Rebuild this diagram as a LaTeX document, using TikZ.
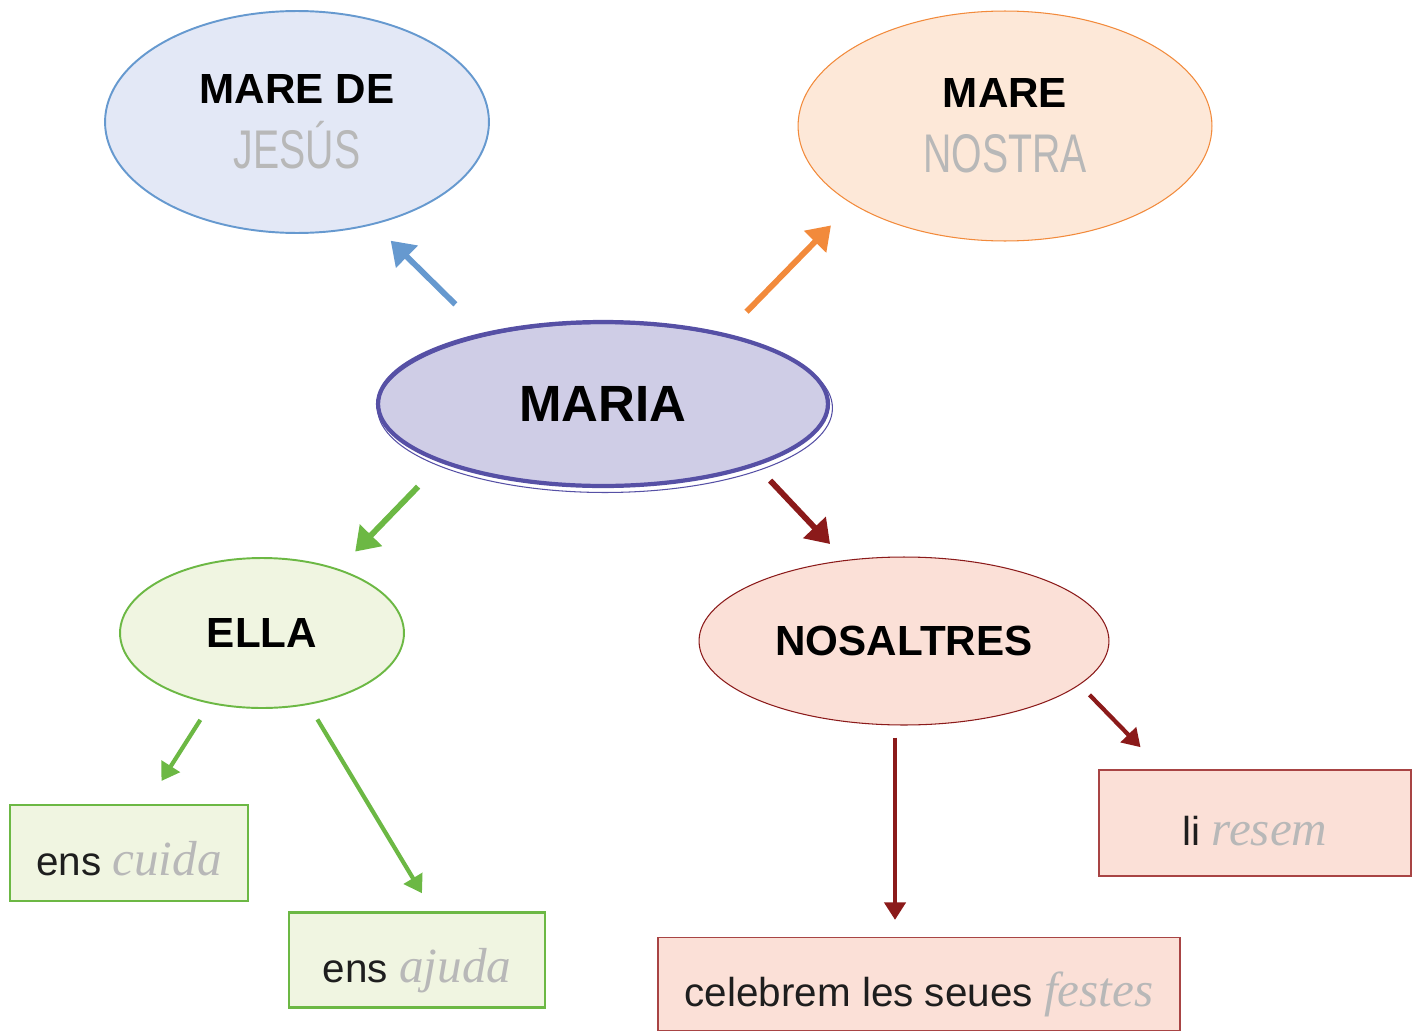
\documentclass[tikz,border=0pt]{standalone}
\usepackage{fontspec}
\setmainfont{Liberation Sans}
\newfontfamily\tracefont[FakeStretch=0.72]{Liberation Sans}
\newfontfamily\handfont{Liberation Serif}
\usetikzlibrary{shapes, arrows.meta, positioning}

\definecolor{bluefill}{HTML}{E3E8F6}
\definecolor{blueline}{HTML}{6699CF}
\definecolor{orangefill}{HTML}{FDE8D8}
\definecolor{orangeline}{HTML}{F28A3B}
\definecolor{mariafill}{HTML}{CFCDE6}
\definecolor{marialine}{HTML}{5650A5}
\definecolor{greenfill}{HTML}{F0F5E1}
\definecolor{greenline}{HTML}{6CB844}
\definecolor{redfill}{HTML}{FBE0D7}
\definecolor{redline}{HTML}{8B1A1A}
\definecolor{redbox}{HTML}{A84444}
\definecolor{tracegray}{HTML}{B8B8B8}
\definecolor{inkgray}{HTML}{1E1E1E}

\newcommand{\traced}[1]{{\tracefont\mdseries\fontsize{31}{37}\selectfont\color{tracegray}#1}}
\newcommand{\hand}[1]{{\handfont\itshape\fontsize{28}{30}\selectfont\color{tracegray}#1}}

\tikzset{
  bubble/.style={ellipse, inner sep=0pt, align=center,
    font=\fontsize{24}{37}\selectfont\bfseries},
  answer/.style={rectangle, inner sep=0pt, text=inkgray, text height=26pt, text depth=0pt,
    font=\fontsize{23}{26}\selectfont},
  bigarrow/.style={line width=3.3pt, -{Triangle[length=13pt, width=17pt]}},
  smallarrow/.style={line width=2.4pt, -{Triangle[length=10pt, width=12pt]}}
}

\begin{document}
\begin{tikzpicture}[x=0.02cm, y=-0.02cm]
\useasboundingbox (0,0) rectangle (1420,1031);

\path (297,122) node[bubble, draw=blueline, fill=bluefill, line width=1.1pt,
  minimum width=7.68cm, minimum height=4.44cm] (jesus) {MARE DE\\\traced{JESÚS}};
\path (1005,126) node[bubble, draw=orangeline, fill=orangefill, line width=0.6pt,
  minimum width=8.28cm, minimum height=4.6cm] (nostra) {MARE\\\traced{NOSTRA}};

\path (603,404) node[bubble, draw=marialine, fill=mariafill, line width=2.4pt,
  minimum width=9cm, minimum height=3.28cm, font=\fontsize{29}{30}\selectfont\bfseries] (maria) {MARIA};
\draw[marialine, line width=0.6pt] ([shift={(2,4)}]maria.center) ellipse (4.55cm and 1.69cm);

\path (262,633) node[bubble, draw=greenline, fill=greenfill, line width=1.1pt,
  minimum width=5.68cm, minimum height=3cm] (ella) {ELLA};
\path (904,641) node[bubble, draw=redline, fill=redfill, line width=0.6pt,
  minimum width=8.2cm, minimum height=3.36cm] (nosaltres) {NOSALTRES};

\path (129,853) node[answer, draw=greenline, fill=greenfill, line width=1.4pt,
  minimum width=4.76cm, minimum height=1.92cm] (cuida) {ens \hand{cuida}};
\path (417,960) node[answer, draw=greenline, fill=greenfill, line width=1.4pt,
  minimum width=5.12cm, minimum height=1.9cm] (ajuda) {ens \hand{ajuda}};
\path (919,984) node[answer, draw=redbox, fill=redfill, line width=0.7pt,
  minimum width=10.44cm, minimum height=1.86cm] (festes) {celebrem les seues \hand{festes}};
\path (1255,823) node[answer, draw=redbox, fill=redfill, line width=0.7pt,
  minimum width=6.24cm, minimum height=2.12cm] (resem) {li \hand{resem}};

\draw[bigarrow, blueline, shorten <=0.8cm, shorten >=0.46cm]
  (node cs:name=maria, angle=149.5) -- (node cs:name=jesus, angle=-53);
\draw[bigarrow, orangeline, shorten <=0.6cm, shorten >=0.6cm]
  (node cs:name=maria, angle=30.9) -- (node cs:name=nostra, angle=-153.4);
\draw[bigarrow, greenline, shorten <=0.66cm, shorten >=0.48cm]
  (node cs:name=maria, angle=-160) -- (node cs:name=ella, angle=40.9);
\draw[bigarrow, redline, shorten <=0.4cm, shorten >=0.44cm]
  (node cs:name=maria, angle=-22.7) -- (node cs:name=nosaltres, angle=126);

\draw[smallarrow, greenline, shorten <=0.38cm, shorten >=0.54cm]
  (node cs:name=ella, angle=-126) -- (node cs:name=cuida, angle=70.5);
\draw[smallarrow, greenline, shorten <=0.34cm, shorten >=0.42cm]
  (node cs:name=ella, angle=-57.6) -- (node cs:name=ajuda, angle=72.3);

\draw[smallarrow, redline, shorten <=0.24cm, shorten >=0.34cm]
  ([xshift=-0.18cm]nosaltres.south) -- ([xshift=-0.18cm]nosaltres.south |- festes.north);
\draw[smallarrow, redline, shorten <=0.28cm, shorten >=0.62cm]
  (node cs:name=nosaltres, angle=-14.6) -- (node cs:name=resem, angle=150.6);
\end{tikzpicture}
\end{document}
